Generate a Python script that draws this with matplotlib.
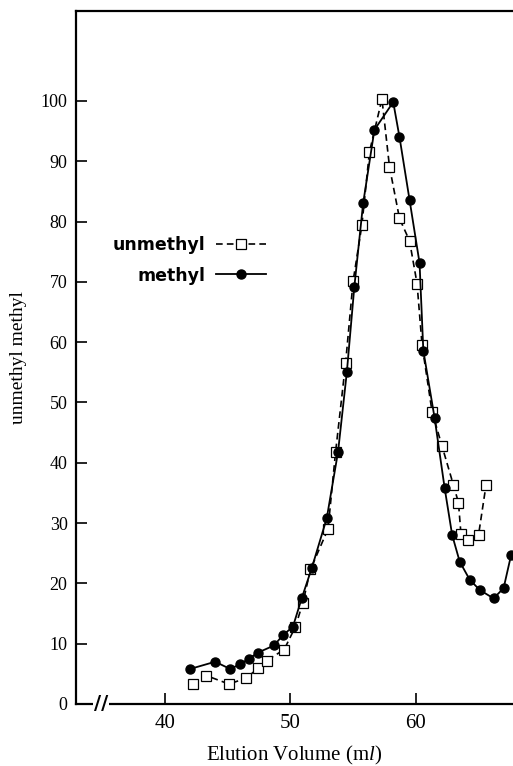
import matplotlib
matplotlib.use("Agg")
import matplotlib.pyplot as plt

# elution volume (ml) and relative amount
methyl_x = [42.0, 44.0, 45.2, 46.0, 46.7, 47.4, 48.7, 49.4, 50.2, 50.9,
            51.7, 52.9, 53.8, 54.5, 55.1, 55.8, 56.7, 58.2, 58.7, 59.5,
            60.3, 60.6, 61.5, 62.3, 62.9, 63.5, 64.3, 65.1, 66.2, 67.0, 67.6]
methyl_y = [5.8, 7.0, 5.8, 6.6, 7.5, 8.5, 9.7, 11.4, 12.8, 17.5,
            22.5, 30.8, 41.8, 55.0, 69.2, 83.0, 95.2, 99.8, 94.0, 83.6,
            73.1, 58.6, 47.4, 35.8, 28.0, 23.6, 20.6, 18.9, 17.5, 19.2, 24.7]

unmethyl_x = [42.2, 43.3, 45.1, 46.5, 47.4, 48.1, 49.5, 50.4, 51.0, 51.6,
              53.0, 53.6, 54.4, 55.0, 55.7, 56.3, 57.3, 57.9, 58.7, 59.5,
              60.1, 60.5, 61.3, 62.1, 63.0, 63.4, 63.6, 64.2, 65.0, 65.6]
unmethyl_y = [3.3, 4.7, 3.3, 4.3, 5.9, 7.2, 9.0, 12.8, 16.8, 22.3,
              29.0, 41.7, 56.5, 70.1, 79.4, 91.5, 100.3, 89.1, 80.5, 76.8,
              69.7, 59.5, 48.4, 42.7, 36.3, 33.4, 28.2, 27.2, 28.0, 36.3]

yticks = [0, 10, 20, 30, 40, 50, 60, 70, 80, 90, 100]
xticks = [40, 50, 60]

plt.rcParams['mathtext.fontset'] = 'custom'
plt.rcParams['mathtext.it'] = 'Liberation Serif:italic'
plt.rcParams['mathtext.rm'] = 'Liberation Serif'

fig = plt.figure(figsize=(5.13, 7.66), dpi=100)
ax = fig.add_axes([0.148, 0.081, 0.852, 0.9046])

ax.plot(unmethyl_x, unmethyl_y, color='black', lw=1.2, ls=(0, (4, 2.5)),
        marker='s', ms=7.5, mfc='white', mec='black', mew=0.9,
        label='unmethyl', clip_on=False, zorder=3)
ax.plot(methyl_x, methyl_y, color='black', lw=1.3, ls='-',
        marker='o', ms=6.5, mfc='black', mec='black',
        label='methyl', clip_on=False, zorder=4)

ax.set_xlim(32.9, 67.75)
ax.set_ylim(0, 114.9)

ax.spines['right'].set_visible(False)
for s in ['left', 'top', 'bottom']:
    ax.spines[s].set_linewidth(1.6)

ax.set_yticks(yticks)
ax.set_xticks(xticks)
ax.tick_params(direction='in', length=8, width=1.2)
for lab in ax.get_yticklabels():
    lab.set_fontfamily('Liberation Serif')
    lab.set_fontsize(13)
for lab in ax.get_xticklabels():
    lab.set_fontfamily('Liberation Serif')
    lab.set_fontsize(15)
ax.tick_params(axis='y', pad=6)
ax.tick_params(axis='x', pad=7)

ax.set_xlabel('Elution Volume (m$\\mathit{l}$)', fontfamily='Liberation Serif',
              fontsize=15, labelpad=8)
ax.set_ylabel('unmethyl methyl', fontfamily='Liberation Serif', fontsize=14,
              labelpad=10)

# axis break mark
ax.text(34.9, 0, '//', fontsize=14, fontweight='bold', ha='center', va='center',
        fontfamily='DejaVu Sans', transform=ax.transData, clip_on=False,
        bbox=dict(facecolor='white', edgecolor='none', pad=0.5))

leg = ax.legend(loc='center right', bbox_to_anchor=(0.435, 0.64),
                frameon=False, markerfirst=False, handlelength=2.9,
                handletextpad=0.6, labelspacing=0.7, borderpad=0,
                borderaxespad=0, prop={'family': 'DejaVu Sans',
                                       'weight': 'bold', 'size': 12.5})

fig.savefig('out.png', dpi=100)
